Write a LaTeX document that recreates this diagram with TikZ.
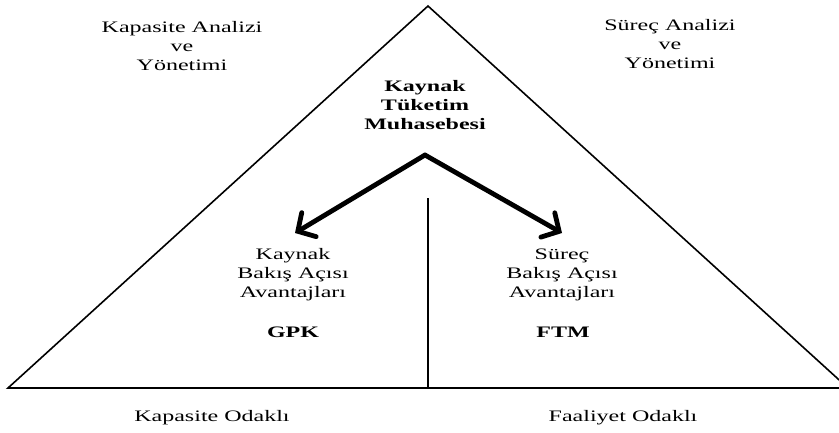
\documentclass[tikz,border=0pt]{standalone}
\usepackage{fontspec}
\setmainfont{Liberation Serif}[FakeStretch=1.5]
\usetikzlibrary{arrows.meta}
\tikzset{
  edge/.style={line width=1.6pt,black,line join=miter},
  fork/.style={line width=4.8pt,black,line cap=round,
    -{Straight Barb[length=13pt,width=28pt,line cap=round]}},
  lab/.style={font=\fontsize{16}{19}\selectfont,align=center,inner sep=0pt},
  blab/.style={lab,font=\fontsize{16}{19}\selectfont\bfseries}
}
\begin{document}
\begin{tikzpicture}[x=1pt,y=-1pt]
  \useasboundingbox (0,0) rectangle (839,432);
  \clip (0,0) rectangle (839,432);

  % triangle
  \coordinate (apex) at (428,6);
  \coordinate (bl) at (8,388);
  \coordinate (br) at (848,388);
  \draw[edge] (apex) -- (bl) -- (br) -- cycle;

  % divider
  \coordinate (divtop) at (428,198);
  \coordinate (divbot) at (428,388);
  \draw[edge] (divtop) -- (divbot);

  % arrows
  \coordinate (fork) at (425,155);
  \coordinate (tipl) at (295,233);
  \coordinate (tipr) at (562,233);
  \draw[fork] (fork) -- (tipl);
  \draw[fork] (fork) -- (tipr);

  % corner texts
  \node[lab] (kapan) at (182,46) {Kapasite Analizi\\ve\\Yönetimi};
  \node[lab] (surec) at (670,44) {Süreç Analizi\\ve\\Yönetimi};
  \node[blab] (ktm) at (425,105) {Kaynak\\Tüketim\\Muhasebesi};

  \node[lab] (kbak) at (293,275) {Kaynak\\Bakış Açısı\\Avantajları};
  \node[blab] (gpk) at (293,332) {GPK};
  \node[lab] (sbak) at (562,275) {Süreç\\Bakış Açısı\\Avantajları};
  \node[blab] (ftm) at (563,332) {FTM};

  \node[lab] (kodak) at (212,418) {Kapasite Odaklı};
  \node[lab] (fodak) at (623,418) {Faaliyet Odaklı};
\end{tikzpicture}
\end{document}
